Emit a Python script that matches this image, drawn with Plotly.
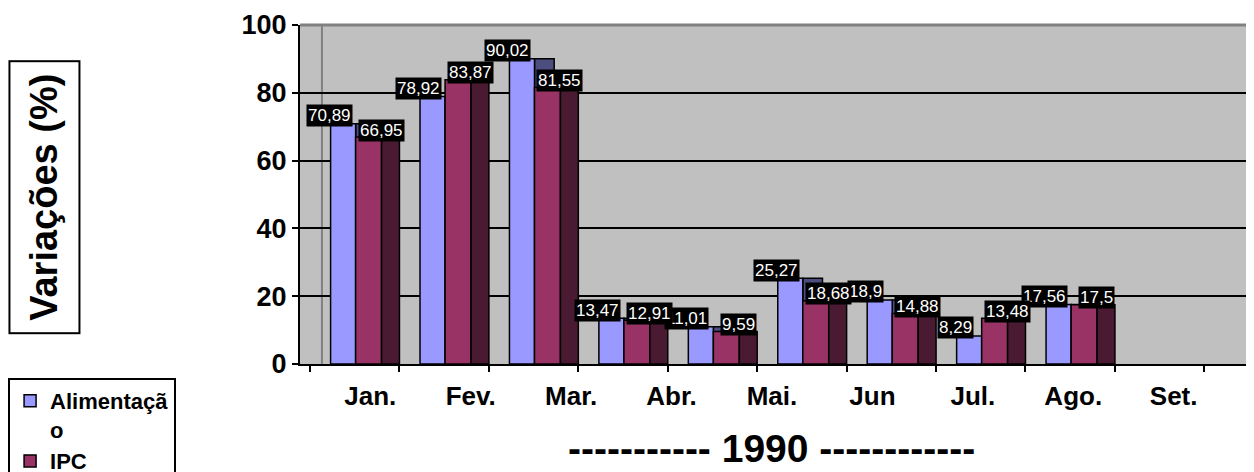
import plotly.graph_objects as go

# values (Brazilian decimal comma in the labels)
months = ["Jan.", "Fev.", "Mar.", "Abr.", "Mai.", "Jun", "Jul.", "Ago.", "Set."]
alimentacao = [70.89, 78.92, 90.02, 13.47, 11.01, 25.27, 18.9, 8.29, 17.56]
ipc = [66.95, 83.87, 81.55, 12.91, 9.59, 18.68, 14.88, 13.48, 17.5]
y_ticks = [0, 20, 40, 60, 80, 100]

FONT = "Liberation Sans, Arial, sans-serif"
ALIM_FRONT = "#9999FF"
ALIM_SIDE = "#4D4D80"
IPC_FRONT = "#993366"
IPC_SIDE = "#4A1A33"

xi = list(range(len(months)))
outline = dict(color="black", width=1.5)

fig = go.Figure()
# fake 3D: a darker "side" bar drawn right of each front bar
fig.add_trace(go.Bar(x=xi, y=alimentacao, offset=-0.105, width=0.22,
                     marker=dict(color=ALIM_SIDE, line=outline),
                     showlegend=False, hoverinfo="skip"))
fig.add_trace(go.Bar(x=xi, y=alimentacao, offset=-0.385, width=0.28,
                     name="Alimentaçã<br>o",
                     marker=dict(color=ALIM_FRONT, line=outline)))
fig.add_trace(go.Bar(x=xi, y=ipc, offset=-0.105, width=0.29, name="IPC",
                     marker=dict(color=IPC_FRONT, line=outline)))
fig.add_trace(go.Bar(x=xi, y=ipc, offset=0.185, width=0.20,
                     marker=dict(color=IPC_SIDE, line=outline),
                     showlegend=False, hoverinfo="skip"))
# invisible trace so the month-label axis gets drawn
fig.add_trace(go.Scatter(x=xi, y=ipc, xaxis="x2", mode="markers",
                         marker=dict(opacity=0), showlegend=False, hoverinfo="skip"))


def fmt(v):
    return str(v).replace(".", ",")


label_style = dict(showarrow=False, bgcolor="black", borderpad=1,
                   font=dict(family=FONT, size=17, color="white"),
                   xref="x", yref="y")
annotations = []
for i, v in enumerate(alimentacao):
    annotations.append(dict(x=i, y=v, text=fmt(v), xshift=-36, yshift=8, **label_style))
for i, v in enumerate(ipc):
    annotations.append(dict(x=i, y=v, text=fmt(v), xshift=16, yshift=7, **label_style))

# y axis title in its box
annotations.append(dict(
    text="Variações (%)", textangle=-90, showarrow=False,
    xref="paper", yref="paper", x=-0.268, y=0.493,
    xanchor="center", yanchor="middle",
    font=dict(family=FONT, size=38, color="black", weight="bold"),
    bordercolor="black", borderwidth=2, width=268, height=66,
))
# x axis title
annotations.append(dict(
    text="----------- 1990 ------------", showarrow=False,
    xref="paper", yref="paper", x=0.494, y=-0.248,
    xanchor="center", yanchor="middle",
    font=dict(family=FONT, size=39, color="black", weight="bold"),
))

# page body adds an 8px offset, so margins are shifted by 8px to compensate
fig.update_layout(
    width=1254, height=472,
    barmode="overlay",
    paper_bgcolor="white",
    plot_bgcolor="#C0C0C0",
    margin=dict(l=292, r=8, t=17, b=116, autoexpand=False),
    font=dict(family=FONT, color="black"),
    xaxis=dict(
        range=[-0.727, 9.94], showgrid=False, zeroline=False,
        showline=True, linecolor="black", linewidth=2,
        ticks="outside", ticklen=6, tickwidth=2, tickcolor="black",
        tick0=0.385, dtick=1, showticklabels=False,
    ),
    xaxis2=dict(
        overlaying="x", anchor="y", side="bottom",
        range=[-0.7, 8.8], tickvals=xi, ticktext=months,
        showgrid=False, zeroline=False, showline=False, ticks="",
        tickfont=dict(family=FONT, size=26, color="black", weight="bold"),
        ticklabelstandoff=14,
    ),
    yaxis=dict(
        range=[0, 100], tickvals=y_ticks,
        showgrid=True, gridcolor="black", gridwidth=2, zeroline=False,
        showline=True, linecolor="black", linewidth=2,
        ticks="outside", ticklen=6, tickwidth=2, tickcolor="black",
        tickfont=dict(family=FONT, size=27, color="black", weight="bold"),
    ),
    legend=dict(
        x=-0.306, y=-0.041, xanchor="left", yanchor="top",
        bordercolor="black", borderwidth=2, bgcolor="white",
        font=dict(family=FONT, size=22, color="black", weight="bold"),
        valign="top", tracegroupgap=0,
    ),
    annotations=annotations,
    shapes=[
        # back wall edge and top frame drawn in grey, as in the original
        dict(type="line", xref="paper", yref="paper", x0=0.023, x1=0.023, y0=0, y1=1,
             line=dict(color="#808080", width=2), layer="below"),
        dict(type="line", xref="paper", yref="paper", x0=0, x1=1, y0=1, y1=1,
             line=dict(color="#808080", width=3)),
    ],
)

fig.write_html("out.html")
